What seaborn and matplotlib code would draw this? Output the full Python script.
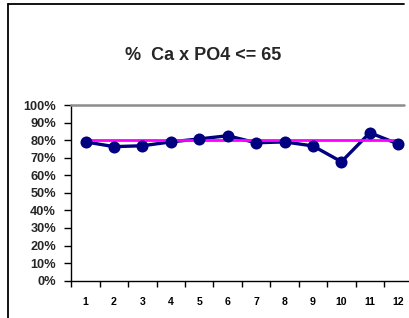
import matplotlib
matplotlib.use("Agg")
import matplotlib.pyplot as plt
from matplotlib.lines import Line2D
import seaborn as sns
import pandas as pd

# Data
months = [1, 2, 3, 4, 5, 6, 7, 8, 9, 10, 11, 12]
pct = [0.79, 0.763, 0.768, 0.79, 0.807, 0.825, 0.785, 0.79, 0.767, 0.677, 0.842, 0.778]
target = [0.80] * 12
y_ticks = [0, 0.1, 0.2, 0.3, 0.4, 0.5, 0.6, 0.7, 0.8, 0.9, 1.0]
y_labels = ["0%", "10%", "20%", "30%", "40%", "50%", "60%", "70%", "80%", "90%", "100%"]
title = "%  Ca x PO4 <= 65"

sns.set_theme(style="white")
plt.rcParams["font.family"] = ["Liberation Sans", "DejaVu Sans"]

df = pd.DataFrame({"month": months, "pct": pct, "target": target})

W, H = 409, 318
fig = plt.figure(figsize=(W / 100, H / 100), dpi=100)
fig.patch.set_facecolor("white")

ax = fig.add_axes([71.3 / W, (H - 280.7) / H, 341.2 / W, 175.7 / H])
ax.set_facecolor("white")

sns.lineplot(data=df, x="month", y="pct", color="#000080", linewidth=2.4, ax=ax, zorder=3)
sns.lineplot(data=df, x="month", y="target", color="#FF00FF", linewidth=2.0, ax=ax, zorder=4)
sns.scatterplot(data=df, x="month", y="pct", color="#000080", s=75, edgecolor="#000080",
                linewidth=0, ax=ax, zorder=5)

ax.set_xlim(0.5, 12.5)
ax.set_ylim(0, 1.0)
ax.set_xlabel("")
ax.set_ylabel("")

ax.set_yticks(y_ticks)
ax.set_yticklabels(y_labels, fontsize=9.2, fontweight="bold")
ax.set_xticks(months)
ax.set_xticklabels([str(m) for m in months], fontsize=7.6, fontweight="bold")
ax.set_xticks([m + 0.5 for m in [0] + months[:-1]], minor=True)
ax.tick_params(axis="x", which="major", length=0, pad=12, colors="black")
ax.tick_params(axis="x", which="minor", length=4, width=1, color="black", direction="out", bottom=True)
ax.tick_params(axis="y", which="major", length=5, width=1, color="black", direction="out", left=True, pad=6)

for side in ["top", "right"]:
    ax.spines[side].set_visible(False)
for side in ["left", "bottom"]:
    ax.spines[side].set_color("black")
    ax.spines[side].set_linewidth(1.0)

# gray top border of plot area
fig.add_artist(Line2D([71.3 / W, 403.5 / W], [(H - 105) / H] * 2, color="#8c8c8c", linewidth=1.8))

# outer chart frame (top and left)
fig.add_artist(Line2D([7.5 / W, 404 / W], [(H - 3.5) / H] * 2, color="black", linewidth=1.3))
fig.add_artist(Line2D([7.5 / W, 7.5 / W], [0, (H - 3.5) / H], color="black", linewidth=1.3))

fig.text(203 / W, (H - 55) / H, title, ha="center", va="center", fontsize=13, fontweight="bold")

fig.savefig("out.png", dpi=100, facecolor="white")
